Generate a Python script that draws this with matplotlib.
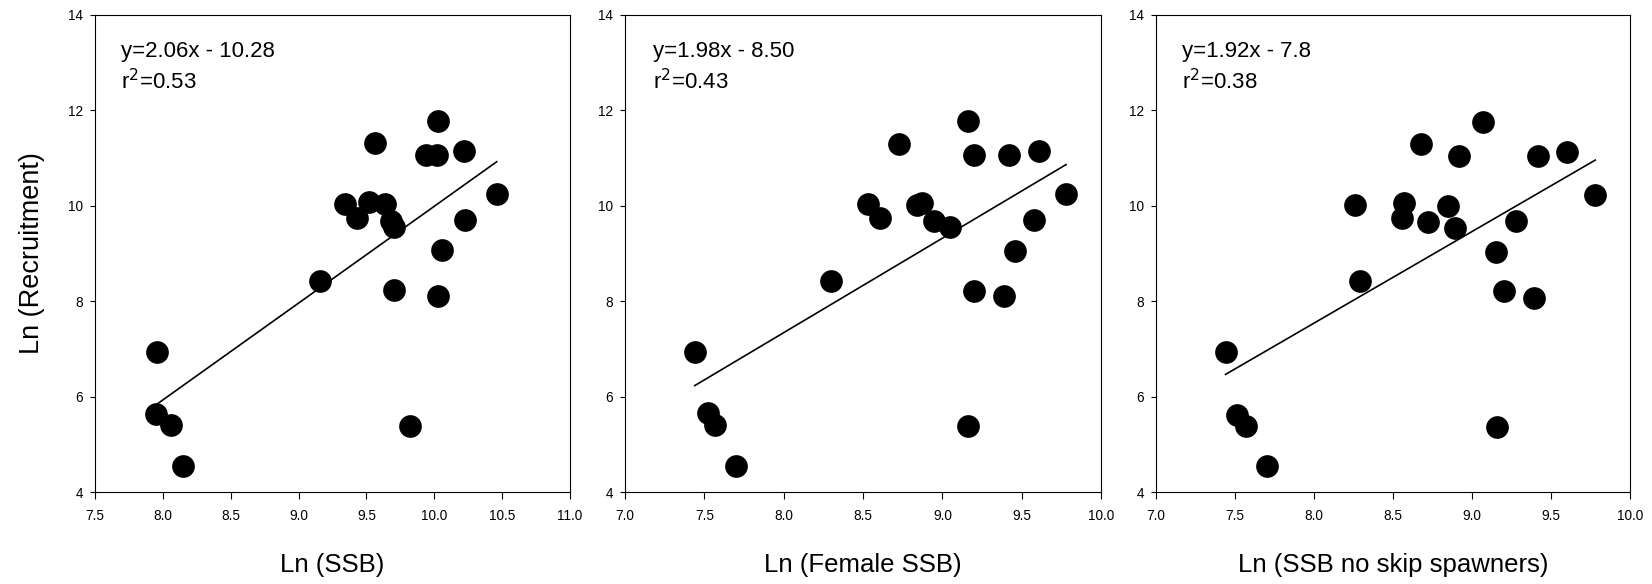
import numpy as np
import matplotlib.pyplot as plt

plt.rcParams['font.family'] = ['Liberation Sans', 'DejaVu Sans']

# data
recruit_ssb = [6.94, 5.63, 5.41, 4.55, 8.43, 10.03, 9.74, 10.07, 11.31, 10.03, 9.69,
               9.56, 8.23, 5.39, 11.06, 11.06, 11.78, 8.10, 9.07, 11.15, 9.71, 10.25]
ssb = [7.96, 7.95, 8.06, 8.15, 9.16, 9.34, 9.43, 9.52, 9.56, 9.64, 9.68,
       9.70, 9.70, 9.82, 9.94, 10.02, 10.03, 10.03, 10.06, 10.22, 10.23, 10.46]

recruit_fem = [6.94, 5.65, 5.41, 4.55, 8.43, 10.03, 9.74, 11.30, 10.02, 10.06, 9.68,
               9.55, 11.78, 11.06, 8.22, 5.39, 8.11, 11.06, 9.06, 9.70, 11.15, 10.24]
female_ssb = [7.44, 7.52, 7.57, 7.70, 8.30, 8.53, 8.61, 8.73, 8.84, 8.87, 8.95,
              9.05, 9.16, 9.20, 9.20, 9.16, 9.39, 9.42, 9.46, 9.58, 9.61, 9.78]

recruit_noskip = [6.93, 5.61, 5.39, 4.54, 10.02, 8.42, 10.05, 9.74, 11.30, 9.65, 9.99,
                  9.54, 11.04, 11.75, 9.04, 8.21, 5.37, 9.69, 8.07, 11.05, 11.13, 10.23]
ssb_noskip = [7.44, 7.51, 7.57, 7.70, 8.26, 8.29, 8.57, 8.56, 8.68, 8.72, 8.85,
              8.89, 8.92, 9.07, 9.15, 9.20, 9.16, 9.28, 9.39, 9.42, 9.60, 9.78]

# fitted lines as drawn
slopes = [2.03, 1.98, 1.92]
intercepts = [-10.31, -8.50, -7.82]
eq_text = ['y=2.06x - 10.28\nr$^2$=0.53',
           'y=1.98x - 8.50\nr$^2$=0.43',
           'y=1.92x - 7.8\nr$^2$=0.38']
xlabels = ['Ln (SSB)', 'Ln (Female SSB)', 'Ln (SSB no skip spawners)']
xlims = [(7.5, 11.0), (7.0, 10.0), (7.0, 10.0)]

xs = [ssb, female_ssb, ssb_noskip]
ys = [recruit_ssb, recruit_fem, recruit_noskip]

fig = plt.figure(figsize=(16.52, 5.84), dpi=100)
lefts = [95, 625, 1156]
widths = [475, 476, 474]
text_x = [0.055, 0.059, 0.055]

for i in range(3):
    ax = fig.add_axes([lefts[i] / 1652, 1 - 492 / 584, widths[i] / 1652, 477 / 584])
    x = np.array(xs[i])
    y = np.array(ys[i])
    ax.scatter(x, y, s=235, color='black', zorder=3)
    xx = np.array([x.min(), x.max()])
    ax.plot(xx, slopes[i] * xx + intercepts[i], color='black', lw=1.2)
    ax.set_xlim(*xlims[i])
    ax.set_ylim(4, 14)
    ticks = np.arange(xlims[i][0], xlims[i][1] + 0.01, 0.5)
    ax.set_xticks(ticks)
    ax.set_xticklabels([f'{v:.1f}' for v in ticks])
    ax.set_yticks([4, 6, 8, 10, 12, 14])
    ax.tick_params(axis='x', direction='out', length=5, width=0.8, labelsize=9.8, pad=7)
    ax.tick_params(axis='y', direction='out', length=3.5, width=0.8, labelsize=9.8, pad=5)
    for sp in ax.spines.values():
        sp.set_linewidth(0.8)
    ax.text(text_x[i], 0.945, eq_text[i], transform=ax.transAxes, fontsize=16,
            va='top', ha='left', linespacing=1.35)
    ax.set_xlabel(xlabels[i], fontsize=18.5, labelpad=22)
    if i == 0:
        ax.set_ylabel('Ln (Recruitment)', fontsize=19.5, labelpad=17)

fig.savefig('out.png', dpi=100)
